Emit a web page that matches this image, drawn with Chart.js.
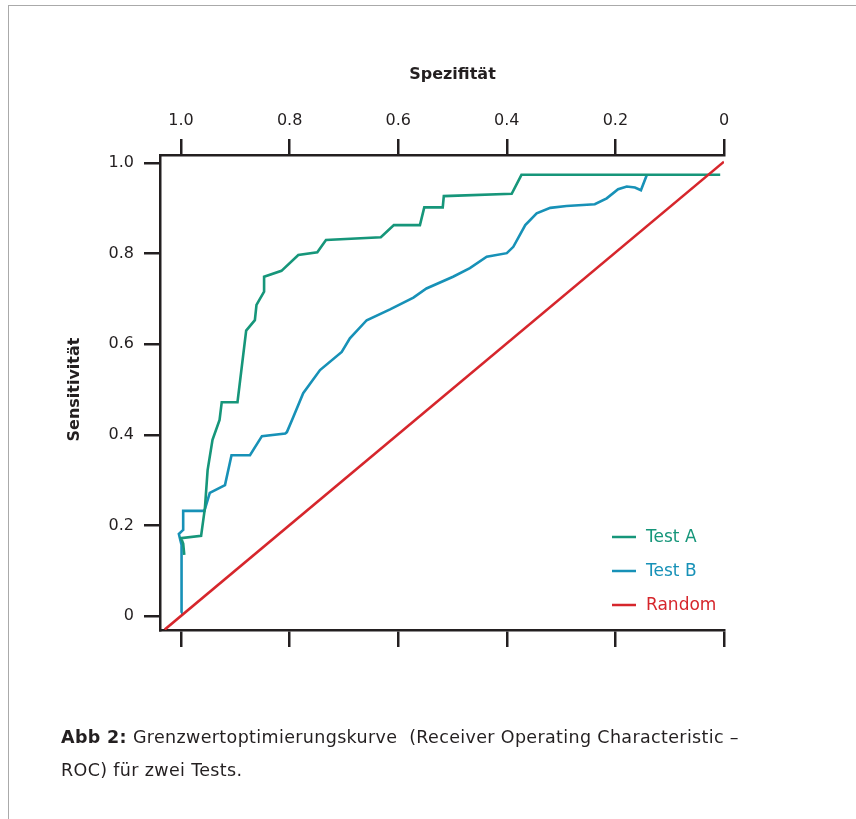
<!DOCTYPE html>
<html><head><meta charset="utf-8">
<script src="https://cdn.jsdelivr.net/npm/chart.js@4.4.1/dist/chart.umd.min.js"></script>
<style>
html,body{margin:0;padding:0;background:#fff;}
#wrap{position:relative;width:856px;height:819px;overflow:hidden;background:#fff;}
#frame{position:absolute;left:8px;top:5px;width:900px;height:900px;border-left:1.5px solid #aaaaaa;border-top:1.5px solid #aaaaaa;}
#c{position:absolute;left:0;top:0;}
#caption{position:absolute;left:61px;top:721px;font-family:"DejaVu Sans",sans-serif;font-size:17.5px;letter-spacing:0.35px;line-height:33px;color:#231f20;width:780px;white-space:nowrap;}
</style></head><body>
<div id="wrap"><div id="frame"></div><canvas id="c" width="856" height="819"></canvas>
<div id="caption"><b>Abb 2:</b> Grenzwertoptimierungskurve&nbsp; (Receiver Operating Characteristic –<br>ROC) für zwei Tests.</div></div>
<script>
// ---- data ----
const specTicks = [1.0, 0.8, 0.6, 0.4, 0.2, 0];
const sensTicks = [0, 0.2, 0.4, 0.6, 0.8, 1.0];
const seriesNames = ['Test A', 'Test B', 'Random'];
const xTitle = 'Spezifität';
const yTitle = 'Sensitivität';

const testASpec = [0.994,0.996,1.0,0.963,0.956,0.951,0.942,0.929,0.925,0.896,0.880,0.864,0.861,0.847,0.847,0.815,0.784,0.749,0.733,0.632,0.608,0.560,0.552,0.518,0.516,0.391,0.373,0.007];
const testASens = [0.135,0.160,0.172,0.177,0.238,0.322,0.389,0.433,0.472,0.472,0.630,0.653,0.687,0.716,0.749,0.762,0.797,0.803,0.830,0.836,0.863,0.863,0.902,0.902,0.927,0.932,0.974,0.974];

const testBSpec = [1.0,0.999,1.004,0.998,0.996,0.996,0.957,0.947,0.919,0.907,0.873,0.851,0.808,0.805,0.793,0.775,0.744,0.704,0.689,0.658,0.615,0.572,0.548,0.499,0.468,0.437,0.400,0.388,0.366,0.345,0.320,0.290,0.238,0.216,0.195,0.179,0.164,0.153,0.142];
const testBSens = [0.007,0.157,0.181,0.188,0.190,0.232,0.232,0.272,0.289,0.355,0.355,0.397,0.403,0.406,0.440,0.492,0.543,0.583,0.613,0.653,0.677,0.703,0.723,0.749,0.768,0.793,0.801,0.815,0.863,0.889,0.901,0.905,0.909,0.922,0.942,0.948,0.946,0.940,0.974];

const randomSpec = [1.03, 0];
const randomSens = [-0.03, 1.003];

// ---- styles ----
const INK = '#231f20';
const FONT = '"DejaVu Sans", sans-serif';
const colors = ['#16967a', '#1791b7', '#d6262c'];

const pts = (xs, ys) => xs.map((x, i) => ({x: x, y: ys[i]}));

const overlayPlugin = {
  id: 'overlay',
  afterDraw(chart) {
    const ctx = chart.ctx;
    const sx = chart.scales.x, sy = chart.scales.y;
    ctx.save();
    // axis titles centred on the 0..1 tick range
    ctx.fillStyle = INK;
    ctx.font = 'bold 16px ' + FONT;
    ctx.textAlign = 'center';
    ctx.textBaseline = 'middle';
    const xc = (sx.getPixelForValue(specTicks[0]) + sx.getPixelForValue(specTicks[specTicks.length - 1])) / 2;
    ctx.fillText(xTitle, xc, 75);
    const yc = (sy.getPixelForValue(sensTicks[0]) + sy.getPixelForValue(sensTicks[sensTicks.length - 1])) / 2;
    ctx.save();
    ctx.translate(75, yc);
    ctx.rotate(-Math.PI / 2);
    ctx.fillText(yTitle, 0, 0);
    ctx.restore();
    // legend inside plot
    const x0 = 612, x1 = 636, tx = 646, ys = [537, 571, 605];
    ctx.font = '17px ' + FONT;
    ctx.textAlign = 'left';
    seriesNames.forEach((n, i) => {
      ctx.strokeStyle = colors[i];
      ctx.lineWidth = 2.5;
      ctx.beginPath(); ctx.moveTo(x0, ys[i]); ctx.lineTo(x1, ys[i]); ctx.stroke();
      ctx.fillStyle = colors[i];
      ctx.fillText(n, tx, ys[i] + 1);
    });
    ctx.restore();
  }
};

const fmt = v => (v === 0 ? '0' : Number(v).toFixed(1));
const SPEC_MAX = 1.0387, SENS_MIN = -0.0309, SENS_MAX = 1.0177;

new Chart(document.getElementById('c'), {
  type: 'line',
  data: {
    datasets: [
      {label: seriesNames[0], data: pts(testASpec, testASens), borderColor: colors[0], borderWidth: 2.6, pointRadius: 0, tension: 0, order: 1, xAxisID: 'x', yAxisID: 'y'},
      {label: seriesNames[1], data: pts(testBSpec, testBSens), borderColor: colors[1], borderWidth: 2.6, pointRadius: 0, tension: 0, order: 2, xAxisID: 'x', yAxisID: 'y'},
      {label: seriesNames[2], data: pts(randomSpec, randomSens), borderColor: colors[2], borderWidth: 2.6, pointRadius: 0, tension: 0, order: 0, xAxisID: 'x', yAxisID: 'y'}
    ]
  },
  options: {
    responsive: false,
    animation: false,
    parsing: false,
    layout: {padding: {left: 0, right: 132, top: 0, bottom: 0}},
    plugins: {legend: {display: false}, tooltip: {enabled: false}},
    scales: {
      x: {
        type: 'linear', position: 'top', reverse: true, min: 0, max: SPEC_MAX,
        afterBuildTicks: s => { s.ticks = specTicks.map(v => ({value: v})); },
        afterFit: s => { s.height = 155; },
        ticks: {callback: fmt, font: {family: FONT, size: 16}, color: INK, padding: 9, maxRotation: 0, autoSkip: false},
        grid: {drawOnChartArea: false, drawTicks: true, tickLength: 16, color: INK, lineWidth: 2.5},
        border: {display: true, color: INK, width: 2.5}
      },
      xb: {
        type: 'linear', position: 'bottom', reverse: true, min: 0, max: SPEC_MAX,
        afterBuildTicks: s => { s.ticks = specTicks.map(v => ({value: v})); },
        afterFit: s => { s.height = 819 - 630; },
        ticks: {display: false},
        grid: {drawOnChartArea: false, drawTicks: true, tickLength: 17, color: INK, lineWidth: 2.5},
        border: {display: true, color: INK, width: 2.5}
      },
      y: {
        type: 'linear', position: 'left', min: SENS_MIN, max: SENS_MAX,
        afterBuildTicks: s => { s.ticks = sensTicks.map(v => ({value: v})); },
        afterFit: s => { s.width = 160; },
        ticks: {callback: fmt, font: {family: FONT, size: 16}, color: INK, padding: 10, autoSkip: false},
        grid: {drawOnChartArea: false, drawTicks: true, tickLength: 16, color: INK, lineWidth: 2.5},
        border: {display: true, color: INK, width: 2.5}
      }
    }
  },
  plugins: [overlayPlugin]
});
</script>
</body></html>
